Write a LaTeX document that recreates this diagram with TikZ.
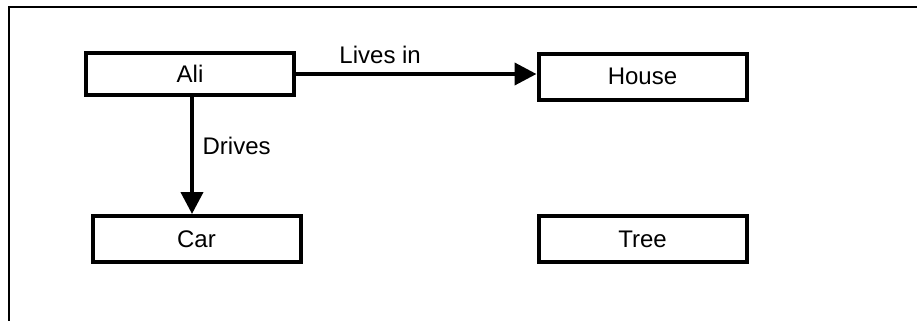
\documentclass[tikz,border=0pt]{standalone}
\usepackage{fontspec}
\setmainfont{Liberation Sans}
\usetikzlibrary{arrows.meta}

\begin{document}
\begin{tikzpicture}[x=0.5pt,y=-0.5pt,
		entity/.style={draw,line width=2pt,minimum width=104pt,minimum height=23pt,inner sep=0pt,font=\fontsize{12}{14}\selectfont},
		relation/.style={line width=2pt,-{Triangle[length=11pt,width=11pt]}},
		rel label/.style={font=\fontsize{12}{14}\selectfont}]
		
		%Picture size
		\useasboundingbox (0,0) rectangle (917,321);
		
		%Frame corners
		\coordinate (FL) at (9,321);
		\coordinate (FC) at (9,7);
		\coordinate (FR) at (917,7);
		\draw[line width=0.75pt] (FL) -- (FC) -- (FR);
		
		%Marking entities
		\node[entity,minimum height=21pt] (Ali) at (190,74) {Ali};
		\node[entity] (House) at (642.5,76.5) {House};
		\node[entity] (Car) at (196.5,239) {Car};
		\node[entity] (Tree) at (642.5,239) {Tree};
		
		%Drawing relations
		\draw[relation] (Ali) -- node[rel label,above,pos=0.35,yshift=1pt] {Lives in} (Ali -| House.west);
		\draw[relation] ([xshift=1pt]Ali.south) -- node[rel label,right,pos=0.42,xshift=1pt] {Drives} ([xshift=1pt]Ali.south |- Car.north);
	\end{tikzpicture}
\end{document}
